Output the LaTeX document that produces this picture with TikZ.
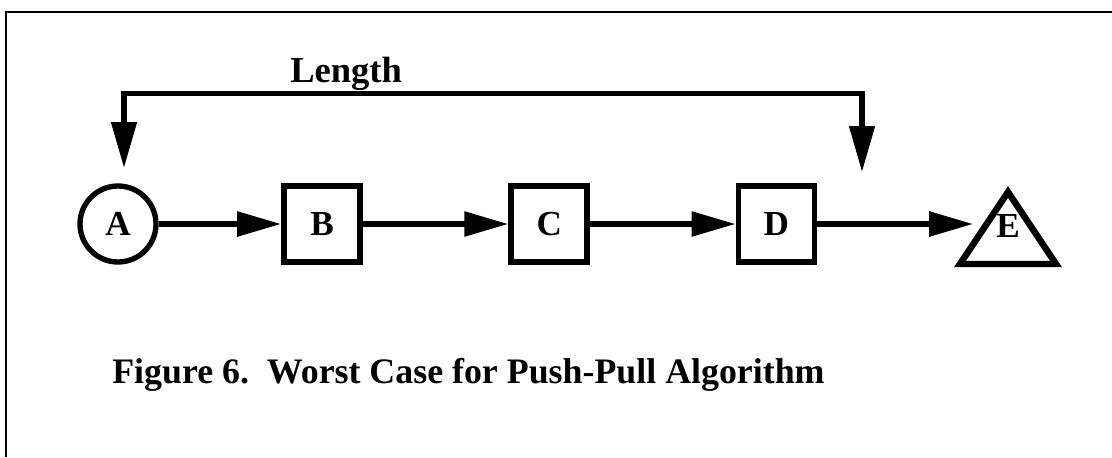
\documentclass[tikz,border=0pt]{standalone}
\usepackage{fontspec}
\setmainfont{Liberation Serif}
\usepackage{tikz}
\usetikzlibrary{arrows.meta}

\tikzset{
    station/.style={circle, draw, line width=3.8pt, minimum size=1.9cm, inner sep=0pt, font=\fontsize{25}{28}\selectfont\bfseries},
    block/.style={rectangle, draw, line width=4pt, minimum size=1.9cm, inner sep=0pt, font=\fontsize{25}{28}\selectfont\bfseries},
    flow/.style={line width=4pt, -{Triangle[length=1.1cm, width=0.6cm]}},
    span/.style={line width=3.8pt, {Triangle[length=1.15cm, width=0.62cm]}-{Triangle[length=1.15cm, width=0.62cm]}},
}

\begin{document}
\begin{tikzpicture}
        \useasboundingbox (0, 0) rectangle (27.8, -11.425);
        % Frame
        \coordinate (f1) at (0.15, -11.425);
        \coordinate (f2) at (0.15, -0.3);
        \coordinate (f3) at (27.8, -0.3);
        \draw[line width=2.1pt] (f1) -- (f2) -- (f3);

        % Chain
        \node[station] (A) at (2.95, -5.6) {A};
        \node[block] (B) at (8.05, -5.6) {B};
        \node[block] (C) at (13.73, -5.6) {C};
        \node[block] (D) at (19.41, -5.6) {D};

        \coordinate (Etop) at (25.2, -4.8);
        \coordinate (Eleft) at (24.0, -6.6);
        \coordinate (Eright) at (26.4, -6.6);
        \draw[line width=4.6pt, miter limit=20] (Etop) -- (Eright) -- (Eleft) -- cycle;
        \node[font=\fontsize{25}{28}\selectfont\bfseries, inner sep=0pt] (E) at (25.2, -5.65) {E};
        \coordinate (Ein) at (24.33, -5.6);

        \draw[flow] (A) -- (B);
        \draw[flow] (B) -- (C);
        \draw[flow] (C) -- (D);
        \draw[flow] (D) -- (Ein);

        % Length bracket
        \coordinate (lenL) at (3.1, -4.2);
        \coordinate (lenR) at (21.55, -4.3);
        \draw[span] (lenL) -- (3.1, -2.33) -| (lenR);
        \node[anchor=base west, inner sep=0pt, font=\fontsize{26}{30}\selectfont\bfseries] (len) at (7.25, -2.07) {Length};

        % Caption
        \node[anchor=base west, inner sep=0pt, font=\fontsize{25.5}{30}\selectfont\bfseries] (cap) at (2.8, -9.575) {Figure 6.\ \ Worst Case for Push-Pull Algorithm};
    \end{tikzpicture}
\end{document}
